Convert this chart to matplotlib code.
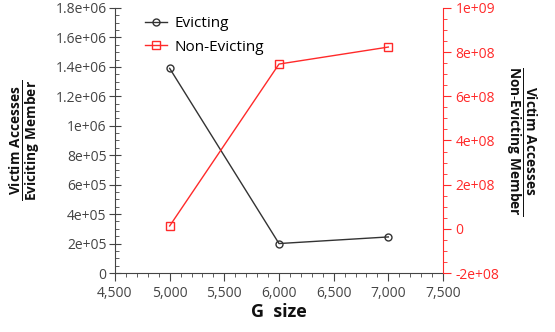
import matplotlib
matplotlib.use("Agg")
import matplotlib.pyplot as plt
from matplotlib.ticker import AutoMinorLocator, FuncFormatter, MultipleLocator

plt.rcParams['font.family'] = ['Open Sans', 'DejaVu Sans']
plt.rcParams['mathtext.fontset'] = 'custom'
plt.rcParams['mathtext.rm'] = 'Open Sans'
plt.rcParams['mathtext.bf'] = 'Open Sans:bold'

g_size = [5000, 6000, 7000]
evicting = [1.39e6, 2.0e5, 2.45e5]
non_evicting = [1.3e7, 7.46e8, 8.23e8]

GRAY = '#444444'
RED = '#ff2a2a'


def sci(v, pos):
    # gnuplot-style labels: 1.8e+06, 1e+06, 0
    if abs(v) < 1:
        return '0'
    m, e = f'{v:.1e}'.split('e')
    if m.endswith('.0'):
        m = m[:-2]
    e = int(e)
    sign = '-' if e < 0 else '+'
    return f'{m}e{sign}{abs(e):02d}'


fig = plt.figure(figsize=(5.55, 3.32), dpi=100)
ax = fig.add_axes([0.2072, 0.1777, 0.5910, 0.7983])
ax2 = ax.twinx()

l1, = ax.plot(g_size, evicting, color='#333333', lw=1, marker='o', ms=5,
              mfc='none', mec='#333333', mew=1, label='Evicting')
l2, = ax2.plot(g_size, non_evicting, color=RED, lw=1, marker='s', ms=6,
               mfc='none', mec=RED, mew=1, label='Non-Evicting')

ax.set_xlim(4500, 7500)
ax.set_ylim(0, 1.8e6)
ax2.set_ylim(-2e8, 1e9)

ax.xaxis.set_major_locator(MultipleLocator(500))
ax.xaxis.set_minor_locator(AutoMinorLocator(5))
ax.xaxis.set_major_formatter(FuncFormatter(lambda v, p: f'{int(v):,}'))
ax.yaxis.set_major_locator(MultipleLocator(2e5))
ax.yaxis.set_minor_locator(AutoMinorLocator(4))
ax.yaxis.set_major_formatter(FuncFormatter(sci))
ax2.yaxis.set_major_locator(MultipleLocator(2e8))
ax2.yaxis.set_minor_locator(AutoMinorLocator(4))
ax2.yaxis.set_major_formatter(FuncFormatter(sci))

for a in (ax, ax2):
    a.spines['top'].set_visible(False)
ax.spines['right'].set_visible(False)
ax.spines['left'].set_color(GRAY)
ax.spines['bottom'].set_color(GRAY)
ax2.spines['left'].set_visible(False)
ax2.spines['bottom'].set_visible(False)
ax2.spines['right'].set_color(RED)

ax.tick_params(axis='x', which='major', direction='out', length=6, color=GRAY,
               labelcolor=GRAY, labelsize=10, pad=3)
ax.tick_params(axis='x', which='minor', direction='out', length=3, color=GRAY)
ax.tick_params(axis='y', which='major', direction='inout', length=8, color=GRAY,
               labelcolor=GRAY, labelsize=10, pad=2)
ax.tick_params(axis='y', which='minor', direction='in', length=3, color=GRAY)
ax2.tick_params(axis='y', which='major', direction='out', length=6, color=RED,
                labelcolor=RED, labelsize=10, pad=3)
ax2.tick_params(axis='y', which='minor', direction='out', length=3, color=RED)

ax.set_xlabel('G  size', fontsize=13, fontweight='bold', color='#111111', labelpad=2)
ax.set_ylabel(r'$\frac{\mathbf{Victim\ Accesses}}{\mathbf{Eviciting\ Member}}$',
              fontsize=14, color='#111111', labelpad=10)
ax2.set_ylabel(r'$\frac{\mathbf{Victim\ Accesses}}{\mathbf{Non}\text{-}\mathbf{Evicting\ Member}}$',
               fontsize=14, color='#111111', rotation=270, labelpad=28)

ax.legend(handles=[l1, l2], loc='upper left', bbox_to_anchor=(0.05, 1.02),
          frameon=False, fontsize=11, handlelength=1.4, handletextpad=0.5,
          labelspacing=0.55)

fig.savefig('out.png', dpi=100)
